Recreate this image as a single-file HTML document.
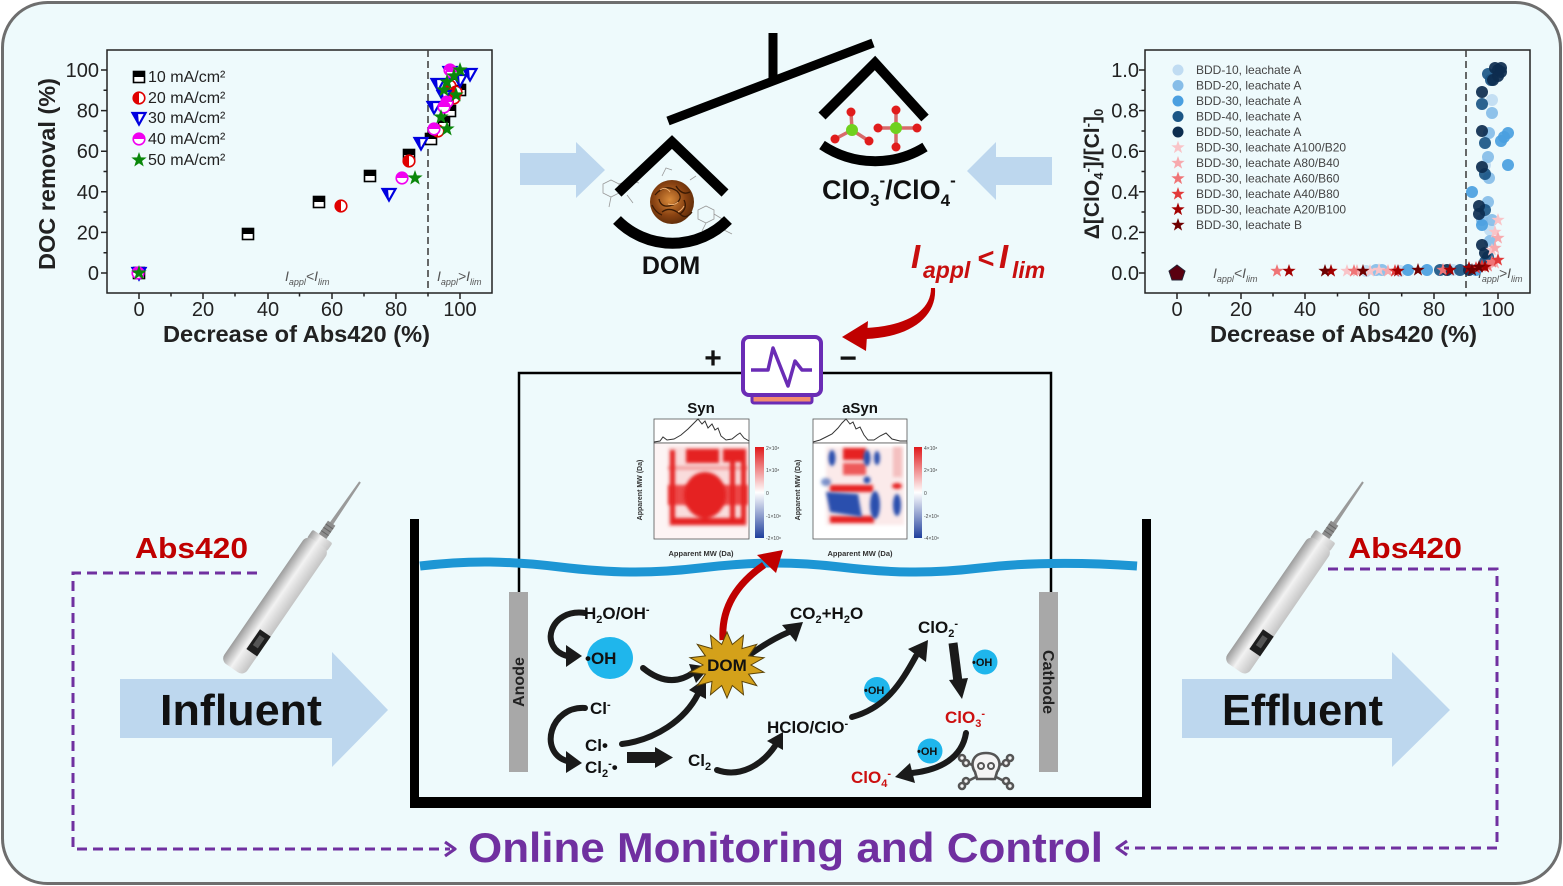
<!DOCTYPE html>
<html><head><meta charset="utf-8"><style>
html,body{margin:0;padding:0;background:#fff;}
svg{display:block;}
</style></head><body>
<svg width="1563" height="886" viewBox="0 0 1563 886" xmlns="http://www.w3.org/2000/svg" font-family="Liberation Sans, Arial, sans-serif">
<defs>
  <g id="sq"><rect x="-5.5" y="-5.5" width="11" height="11" fill="#fff" stroke="#000" stroke-width="1.6"/><rect x="-5.5" y="-5.5" width="11" height="5.5" fill="#000"/></g>
  <g id="c20"><circle r="5.8" fill="#fff" stroke="#e00000" stroke-width="1.6"/><path d="M0,-5.8 A5.8,5.8 0 0 0 0,5.8 Z" fill="#e00000"/></g>
  <g id="t30"><path d="M-6.5,-5 L6.5,-5 L0,6.5 Z" fill="#fff" stroke="#0000e0" stroke-width="2.2"/><path d="M-6.5,-5 L-1,-5 L0,6.5 Z" fill="#0000e0"/></g>
  <g id="c40"><circle r="5.8" fill="#fff" stroke="#f000f0" stroke-width="1.6"/><path d="M-5.8,0 A5.8,5.8 0 0 1 5.8,0 Z" fill="#f000f0"/></g>
  <path id="star" d="M0,-7 L1.646,-2.265 L6.657,-2.163 L2.663,0.865 L4.114,5.663 L0,2.8 L-4.114,5.663 L-2.663,0.865 L-6.657,-2.163 L-1.646,-2.265 Z"/>
  <g id="st50"><use href="#star" fill="#0a870a" transform="scale(1.15)"/></g>
  <linearGradient id="cb" x1="0" y1="0" x2="0" y2="1">
    <stop offset="0" stop-color="#e0191b"/><stop offset="0.5" stop-color="#ffffff"/><stop offset="1" stop-color="#1f3f9c"/>
  </linearGradient>
  <linearGradient id="pg" x1="0" y1="0" x2="1" y2="0">
    <stop offset="0" stop-color="#9c9c9c"/><stop offset="0.45" stop-color="#f2f2f2"/><stop offset="1" stop-color="#c4c4c4"/>
  </linearGradient>
  <radialGradient id="domg" cx="0.45" cy="0.45" r="0.6">
    <stop offset="0" stop-color="#d88a3a"/><stop offset="0.6" stop-color="#8a4312"/><stop offset="1" stop-color="#5a2a08"/>
  </radialGradient>
  <filter id="bl" x="-20%" y="-20%" width="140%" height="140%"><feGaussianBlur stdDeviation="1.6"/></filter>
  <clipPath id="clipSyn"><rect x="654" y="443" width="95" height="96"/></clipPath>
  <clipPath id="clipASyn"><rect x="813" y="443" width="94" height="96"/></clipPath>
  <g id="probe">
    <path d="M-1,0 L1,0 L2,52 L-2,52 Z" fill="#9a9a9a"/>
    <rect x="-4.5" y="50" width="9" height="18" fill="#8c8c8c"/>
    <line x1="-4.5" y1="54" x2="4.5" y2="54" stroke="#666" stroke-width="1"/>
    <line x1="-4.5" y1="58" x2="4.5" y2="58" stroke="#666" stroke-width="1"/>
    <line x1="-4.5" y1="62" x2="4.5" y2="62" stroke="#666" stroke-width="1"/>
    <rect x="-12" y="66" width="24" height="10" rx="2" fill="url(#pg)"/>
    <rect x="-14" y="74" width="28" height="152" rx="7" fill="url(#pg)"/>
    <rect x="1" y="178" width="13" height="24" fill="#1e1e1e"/>
    <rect x="4" y="183" width="6" height="12" fill="#555"/>
  </g>
</defs>

<!-- frame -->
<rect x="2.5" y="2.5" width="1558" height="881" rx="45" fill="#eefafc" stroke="#6e6e6e" stroke-width="3"/>

<!-- ============ LEFT PLOT ============ -->
<g stroke="#222" stroke-width="1.5" fill="none">
  <rect x="107" y="50" width="385" height="243"/>
  <path d="M139,293v6M203,293v6M268,293v6M332,293v6M396,293v6M460,293v6M171,293v3.5M235,293v3.5M299.5,293v3.5M364,293v3.5M428,293v3.5"/>
  <path d="M107,70h-6M107,110.6h-6M107,151.2h-6M107,191.8h-6M107,232.4h-6M107,273h-6M107,90.3h-3.5M107,131h-3.5M107,171.5h-3.5M107,212h-3.5M107,252.7h-3.5"/>
</g>
<line x1="428" y1="50" x2="428" y2="293" stroke="#444" stroke-width="1.6" stroke-dasharray="7,4"/>
<g font-size="20" fill="#222" text-anchor="end">
  <text x="99" y="77">100</text><text x="99" y="117.6">80</text><text x="99" y="158.2">60</text><text x="99" y="198.8">40</text><text x="99" y="239.4">20</text><text x="99" y="280">0</text>
</g>
<g font-size="20" fill="#222" text-anchor="middle">
  <text x="139" y="316">0</text><text x="203" y="316">20</text><text x="268" y="316">40</text><text x="332" y="316">60</text><text x="396" y="316">80</text><text x="460" y="316">100</text>
</g>
<text x="163" y="342" font-size="23" font-weight="bold" fill="#222" textLength="267" lengthAdjust="spacingAndGlyphs">Decrease of Abs420 (%)</text>
<text transform="translate(55,174) rotate(-90)" text-anchor="middle" font-size="23" font-weight="bold" fill="#222" textLength="192" lengthAdjust="spacingAndGlyphs">DOC removal (%)</text>
<!-- legend -->
<use href="#sq" x="139" y="77"/><use href="#c20" x="139" y="98"/><use href="#t30" x="139" y="118"/><use href="#c40" x="139" y="139"/><use href="#st50" x="139" y="160"/>
<g font-size="16" fill="#222">
  <text x="148" y="82">10 mA/cm²</text><text x="148" y="103">20 mA/cm²</text><text x="148" y="123">30 mA/cm²</text><text x="148" y="144">40 mA/cm²</text><text x="148" y="165">50 mA/cm²</text>
</g>
<g font-style="italic" fill="#555">
  <text x="285" y="281" font-size="14">I<tspan font-size="9" dy="4">appl</tspan><tspan dy="-4">&lt;I</tspan><tspan font-size="9" dy="4">lim</tspan></text>
  <text x="437" y="281" font-size="14">I<tspan font-size="9" dy="4">appl</tspan><tspan dy="-4">&gt;I</tspan><tspan font-size="9" dy="4">lim</tspan></text>
</g>
<!-- data -->
<use href="#sq" x="248" y="234"/><use href="#sq" x="319" y="202"/><use href="#sq" x="370" y="176"/><use href="#sq" x="409" y="155"/><use href="#sq" x="431" y="139"/><use href="#sq" x="444" y="123"/><use href="#sq" x="450" y="111"/><use href="#sq" x="460" y="90"/><use href="#sq" x="457" y="80"/><use href="#sq" x="139" y="273"/>
<use href="#c20" x="341" y="206"/><use href="#c20" x="409" y="161"/><use href="#c20" x="438" y="131"/><use href="#c20" x="454" y="98"/><use href="#c20" x="450" y="86"/><use href="#c20" x="456" y="92"/>
<use href="#t30" x="389" y="194"/><use href="#t30" x="421" y="143"/><use href="#t30" x="434" y="107"/><use href="#t30" x="438" y="84"/><use href="#t30" x="470" y="74"/><use href="#t30" x="450" y="72"/><use href="#t30" x="444" y="96"/><use href="#t30" x="460" y="80"/><use href="#t30" x="139" y="273"/>
<use href="#c40" x="402" y="178"/><use href="#c40" x="434" y="129"/><use href="#c40" x="447" y="102"/><use href="#c40" x="450" y="70"/><use href="#c40" x="444" y="107"/><use href="#c40" x="452" y="72"/><use href="#c40" x="138" y="273"/>
<use href="#st50" x="415" y="178"/><use href="#st50" x="447" y="129"/><use href="#st50" x="441" y="117"/><use href="#st50" x="444" y="90"/><use href="#st50" x="447" y="82"/><use href="#st50" x="460" y="70"/><use href="#st50" x="454" y="76"/><use href="#st50" x="139" y="273"/><use href="#st50" x="456" y="95"/>

<!-- ============ RIGHT PLOT ============ -->
<g stroke="#222" stroke-width="1.5" fill="none">
  <rect x="1145" y="50" width="385" height="243"/>
  <path d="M1177,293v6M1241,293v6M1305,293v6M1369,293v6M1434,293v6M1498,293v6M1209,293v3.5M1273,293v3.5M1337.5,293v3.5M1401.7,293v3.5M1466,293v3.5"/>
  <path d="M1145,70h-6M1145,110.6h-6M1145,151.2h-6M1145,191.8h-6M1145,232.4h-6M1145,273h-6M1145,90.3h-3.5M1145,131h-3.5M1145,171.5h-3.5M1145,212h-3.5M1145,252.7h-3.5"/>
</g>
<line x1="1466" y1="50" x2="1466" y2="293" stroke="#444" stroke-width="1.6" stroke-dasharray="7,4"/>
<g font-size="20" fill="#222" text-anchor="end">
  <text x="1139" y="77">1.0</text><text x="1139" y="117.6">0.8</text><text x="1139" y="158.2">0.6</text><text x="1139" y="198.8">0.4</text><text x="1139" y="239.4">0.2</text><text x="1139" y="280">0.0</text>
</g>
<g font-size="20" fill="#222" text-anchor="middle">
  <text x="1177" y="316">0</text><text x="1241" y="316">20</text><text x="1305" y="316">40</text><text x="1369" y="316">60</text><text x="1434" y="316">80</text><text x="1498" y="316">100</text>
</g>
<text x="1210" y="342" font-size="23" font-weight="bold" fill="#222" textLength="267" lengthAdjust="spacingAndGlyphs">Decrease of Abs420 (%)</text>
<text transform="translate(1099,174) rotate(-90)" text-anchor="middle" font-size="21" font-weight="bold" fill="#222">Δ[ClO<tspan font-size="13" dy="4">4</tspan><tspan font-size="13" dy="-11">-</tspan><tspan dy="7">]/[Cl</tspan><tspan font-size="13" dy="-7">-</tspan><tspan dy="7">]</tspan><tspan font-size="13" dy="4">0</tspan></text>
<!-- legend right -->
<g>
  <circle cx="1178" cy="70" r="5.5" fill="#c0dcf2"/>
  <circle cx="1178" cy="85.5" r="5.5" fill="#86bde8"/>
  <circle cx="1178" cy="101" r="5.5" fill="#4a9fe0"/>
  <circle cx="1178" cy="116.5" r="5.5" fill="#1b5686"/>
  <circle cx="1178" cy="132" r="5.5" fill="#0d2d4f"/>
  <use href="#star" x="1178" y="147.5" fill="#f9c4c8"/>
  <use href="#star" x="1178" y="163" fill="#f7a9ad"/>
  <use href="#star" x="1178" y="178.5" fill="#ef7476"/>
  <use href="#star" x="1178" y="194" fill="#e23a3a"/>
  <use href="#star" x="1178" y="209.5" fill="#a30000"/>
  <use href="#star" x="1178" y="225" fill="#6e0000"/>
</g>
<g font-size="12" fill="#444">
  <text x="1196" y="74">BDD-10, leachate A</text>
  <text x="1196" y="89.5">BDD-20, leachate A</text>
  <text x="1196" y="105">BDD-30, leachate A</text>
  <text x="1196" y="120.5">BDD-40, leachate A</text>
  <text x="1196" y="136">BDD-50, leachate A</text>
  <text x="1196" y="151.5">BDD-30, leachate A100/B20</text>
  <text x="1196" y="167">BDD-30, leachate A80/B40</text>
  <text x="1196" y="182.5">BDD-30, leachate A60/B60</text>
  <text x="1196" y="198">BDD-30, leachate A40/B80</text>
  <text x="1196" y="213.5">BDD-30, leachate A20/B100</text>
  <text x="1196" y="229">BDD-30, leachate B</text>
</g>
<g font-style="italic" fill="#555">
  <text x="1213" y="278" font-size="14">I<tspan font-size="9" dy="4">appl</tspan><tspan dy="-4">&lt;I</tspan><tspan font-size="9" dy="4">lim</tspan></text>
  <text x="1478" y="278" font-size="14">I<tspan font-size="9" dy="4">appl</tspan><tspan dy="-4">&gt;I</tspan><tspan font-size="9" dy="4">lim</tspan></text>
</g>
<!-- right data -->
<g fill-opacity="0.92">
  <g fill="#c0dcf2"><circle cx="1492" cy="100" r="6"/><circle cx="1485" cy="165" r="6"/><circle cx="1490" cy="230" r="6"/><circle cx="1400" cy="271" r="6"/><circle cx="1453" cy="270" r="6"/><circle cx="1366" cy="271" r="6"/></g>
  <g fill="#86bde8"><circle cx="1492" cy="113" r="6"/><circle cx="1489" cy="133" r="6"/><circle cx="1488" cy="157" r="6"/><circle cx="1489" cy="178" r="6"/><circle cx="1488" cy="202" r="6"/><circle cx="1482" cy="220" r="6"/><circle cx="1492" cy="220" r="6"/><circle cx="1490" cy="241" r="6"/><circle cx="1382" cy="270" r="6"/><circle cx="1376" cy="270" r="6"/></g>
  <g fill="#4a9fe0"><circle cx="1508" cy="133" r="6"/><circle cx="1504" cy="137" r="6"/><circle cx="1508" cy="165" r="6"/><circle cx="1472" cy="192" r="6"/><circle cx="1501" cy="141" r="6"/><circle cx="1427" cy="270" r="6"/><circle cx="1408" cy="270" r="6"/><circle cx="1476" cy="270" r="6"/><circle cx="1482" cy="225" r="6"/></g>
  <g fill="#1b5686"><circle cx="1488" cy="74" r="6"/><circle cx="1491" cy="80" r="6"/><circle cx="1482" cy="104" r="6"/><circle cx="1485" cy="143" r="6"/><circle cx="1485" cy="174" r="6"/><circle cx="1485" cy="210" r="6"/><circle cx="1488" cy="257" r="6"/><circle cx="1485" cy="262" r="6"/><circle cx="1440" cy="270" r="6"/><circle cx="1460" cy="270" r="6"/></g>
  <g fill="#0d2d4f"><circle cx="1498" cy="70" r="6"/><circle cx="1495" cy="68" r="6"/><circle cx="1501" cy="72" r="6"/><circle cx="1498" cy="76" r="6"/><circle cx="1482" cy="92" r="6"/><circle cx="1482" cy="131" r="6"/><circle cx="1482" cy="167" r="6"/><circle cx="1479" cy="206" r="6"/><circle cx="1479" cy="214" r="6"/><circle cx="1482" cy="245" r="6"/><circle cx="1485" cy="253" r="6"/><circle cx="1493" cy="80" r="6"/><circle cx="1501" cy="68" r="6"/><circle cx="1447" cy="270" r="6"/><circle cx="1469" cy="270" r="6"/></g>
</g>
<g>
  <g fill="#f9c4c8"><use href="#star" x="1498" y="220"/><use href="#star" x="1495" y="232"/><use href="#star" x="1347" y="271"/><use href="#star" x="1370" y="271"/><use href="#star" x="1379" y="270"/><use href="#star" x="1492" y="250"/></g>
  <g fill="#f7a9ad"><use href="#star" x="1498" y="238"/><use href="#star" x="1495" y="248"/><use href="#star" x="1357" y="271"/><use href="#star" x="1388" y="271"/><use href="#star" x="1495" y="263"/></g>
  <g fill="#ef7476"><use href="#star" x="1277" y="271"/><use href="#star" x="1354" y="271"/><use href="#star" x="1443" y="270"/><use href="#star" x="1492" y="262"/><use href="#star" x="1488" y="266"/></g>
  <g fill="#e23a3a"><use href="#star" x="1395" y="271"/><use href="#star" x="1482" y="266"/><use href="#star" x="1476" y="268"/><use href="#star" x="1498" y="260"/></g>
  <g fill="#a30000"><use href="#star" x="1289" y="271"/><use href="#star" x="1331" y="271"/><use href="#star" x="1398" y="271"/><use href="#star" x="1450" y="270"/><use href="#star" x="1469" y="268"/><use href="#star" x="1485" y="267"/></g>
  <g fill="#6e0000"><use href="#star" x="1325" y="271"/><use href="#star" x="1363" y="271"/><use href="#star" x="1418" y="270"/><use href="#star" x="1472" y="270"/><use href="#star" x="1479" y="267"/></g>
  <polygon points="1177,265 1185,271 1182,280 1172,280 1169,271" fill="#5a0010" stroke="#223" stroke-width="1"/>
</g>

<!-- ============ BALANCE ============ -->
<polygon points="520,153 576,153 576,142 605,170 576,198 576,185 520,185" fill="#bdd7ee"/>
<polygon points="1052,157 996,157 996,142 967,171 996,200 996,185 1052,185" fill="#bdd7ee"/>
<line x1="773" y1="33" x2="773" y2="84" stroke="#000" stroke-width="9"/>
<line x1="668" y1="121" x2="873" y2="43" stroke="#000" stroke-width="9"/>
<!-- left pan -->
<g stroke="#999" stroke-width="0.8" fill="none">
  <path d="M603,184 l8,-4 l8,4 l0,9 l-8,4 l-8,-4 z M619,184 l10,-4 l10,3 M611,197 l-2,10 M627,195 l6,8"/>
  <path d="M698,210 l8,-4 l8,4 l0,9 l-8,4 l-8,-4 z M714,214 l10,6 l0,10 l-8,5 M706,223 l-4,8 M724,230 l8,4"/>
  <path d="M662,176 l4,-8 l6,2 M690,180 l6,-4"/>
</g>
<circle cx="672" cy="202" r="22" fill="url(#domg)"/>
<g stroke="#3a1a04" stroke-width="1.3" fill="none">
  <path d="M655,195 q10,-12 22,-4 q8,8 -4,14 q-12,4 -14,-6"/>
  <path d="M662,212 q8,-6 18,2 q6,6 12,-2"/>
  <path d="M676,186 q6,10 14,6 M652,205 q4,8 10,10 M684,200 q4,8 -4,14"/>
</g>
<g stroke="#f0b070" stroke-width="1" fill="none"><path d="M660,190 q6,-4 10,2 M668,204 q6,2 10,-2 M678,212 q4,-2 6,-6"/></g>
<polyline points="618,193 672,142 725,193" fill="none" stroke="#000" stroke-width="10"/>
<path d="M617,220 A78,78 0 0 0 728,220" fill="none" stroke="#000" stroke-width="11"/>
<text x="671" y="274" text-anchor="middle" font-size="25" font-weight="bold" fill="#111">DOM</text>
<!-- right pan -->
<polyline points="822,116 875,63 925,118" fill="none" stroke="#000" stroke-width="10"/>
<path d="M822,145 A95,95 0 0 0 925,147" fill="none" stroke="#000" stroke-width="10"/>
<g stroke-width="3.5">
  <line x1="852" y1="130" x2="851" y2="112" stroke="#d86a6a"/><line x1="852" y1="130" x2="835" y2="139" stroke="#d86a6a"/><line x1="852" y1="130" x2="869" y2="141" stroke="#d86a6a"/>
  <line x1="896" y1="128" x2="896" y2="110" stroke="#d86a6a"/><line x1="896" y1="128" x2="878" y2="128" stroke="#d86a6a"/><line x1="896" y1="128" x2="917" y2="128" stroke="#d86a6a"/><line x1="896" y1="128" x2="896" y2="147" stroke="#d86a6a"/>
</g>
<g fill="#e01c1c"><circle cx="851" cy="112" r="4.5"/><circle cx="835" cy="139" r="4.5"/><circle cx="869" cy="141" r="4.5"/><circle cx="896" cy="110" r="4.5"/><circle cx="878" cy="128" r="4.5"/><circle cx="917" cy="128" r="4.5"/><circle cx="896" cy="147" r="4.5"/></g>
<g fill="#6fd11e"><circle cx="852" cy="130" r="6"/><circle cx="896" cy="128" r="6"/></g>
<text x="822" y="199" font-size="27" font-weight="bold" fill="#111">ClO<tspan font-size="17" dy="7">3</tspan><tspan font-size="17" dy="-20">-</tspan><tspan dy="13">/ClO</tspan><tspan font-size="17" dy="7">4</tspan><tspan font-size="17" dy="-20">-</tspan></text>

<!-- I_appl < I_lim -->
<g fill="#c80f0f" font-weight="bold" font-style="italic">
  <text x="911" y="268" font-size="33">I</text>
  <text x="923" y="278" font-size="23">appl</text>
  <text x="977" y="268" font-size="29">&lt;</text>
  <text x="999" y="268" font-size="33">I</text>
  <text x="1012" y="278" font-size="23">lim</text>
</g>
<path d="M931,288 C931,312 905,326 866,328 L866,339 C912,337 937,316 935,288 Z" fill="#c00000"/>
<polygon points="842,337 868,321 866,351" fill="#c00000"/>

<!-- ============ CIRCUIT ============ -->
<g stroke="#000" stroke-width="2.5" fill="none">
  <path d="M743,373 H519 V592"/>
  <path d="M821,373 H1051 V592"/>
</g>
<text x="713" y="368" text-anchor="middle" font-size="30" font-weight="bold" fill="#111">+</text>
<text x="848" y="368" text-anchor="middle" font-size="30" font-weight="bold" fill="#111">−</text>
<rect x="752" y="395" width="60" height="8" rx="2" fill="#f28b6e" stroke="#6a2cb5" stroke-width="3"/>
<rect x="743" y="337" width="78" height="58" rx="6" fill="#fff" stroke="#6a2cb5" stroke-width="4"/>
<polyline points="751,370 768,370 773,348 788,386 795,361 802,370 812,370" fill="none" stroke="#6a2cb5" stroke-width="3.5" stroke-linejoin="round"/>

<!-- Syn / aSyn -->
<text x="701" y="413" text-anchor="middle" font-size="15" font-weight="bold" fill="#111">Syn</text>
<text x="860" y="413" text-anchor="middle" font-size="15" font-weight="bold" fill="#111">aSyn</text>
<rect x="654" y="419" width="95" height="24" fill="#fff" stroke="#555" stroke-width="0.8"/>
<polyline points="654,442 660,441 663,437 667,440 674,439 681,435 688,429 694,423 698,419 702,424 705,421 708,428 712,424 715,430 718,428 721,436 726,440 732,439 737,435 740,433 744,438 749,441" fill="none" stroke="#333" stroke-width="1"/>
<rect x="654" y="443" width="95" height="96" fill="#fdf4f4" stroke="#555" stroke-width="0.8"/>
<g clip-path="url(#clipSyn)">
  <rect x="668" y="447" width="80" height="80" fill="#f9dcdc" filter="url(#bl)"/>
  <g fill="#ec4a4a" filter="url(#bl)">
    <rect x="668" y="485" width="80" height="20"/>
    <rect x="668" y="466" width="80" height="4" fill="#f3a5a5"/>
  </g>
  <g fill="#e52222" filter="url(#bl)">
    <ellipse cx="705" cy="495" rx="21" ry="23"/>
    <rect x="686" y="449" width="33" height="14"/>
    <rect x="723" y="449" width="22" height="13"/>
    <rect x="670" y="518" width="76" height="7"/>
    <rect x="670" y="450" width="5" height="75"/>
    <rect x="730" y="449" width="5" height="76"/>
    <rect x="741" y="449" width="5" height="76"/>
  </g>
</g>
<rect x="755" y="447" width="9" height="91" fill="url(#cb)"/>
<g font-size="5" fill="#444"><text x="766" y="450">2×10⁸</text><text x="766" y="472">1×10⁸</text><text x="766" y="495">0</text><text x="766" y="518">-1×10⁸</text><text x="766" y="540">-2×10⁸</text></g>
<text x="701" y="556" text-anchor="middle" font-size="7.5" font-weight="bold" fill="#333">Apparent MW (Da)</text>
<text transform="translate(642,490) rotate(-90)" text-anchor="middle" font-size="7" font-weight="bold" fill="#333">Apparent MW (Da)</text>

<rect x="813" y="419" width="94" height="24" fill="#fff" stroke="#555" stroke-width="0.8"/>
<polyline points="813,442 820,440 826,437 832,434 838,428 842,423 846,419 850,424 853,422 856,429 860,427 864,435 868,440 874,440 880,436 886,433 892,439 900,441 907,441" fill="none" stroke="#333" stroke-width="1"/>
<rect x="813" y="443" width="94" height="96" fill="#fff" stroke="#555" stroke-width="0.8"/>
<g clip-path="url(#clipASyn)">
  <rect x="826" y="447" width="78" height="78" fill="#fbeaea" filter="url(#bl)"/>
  <g fill="#e62424" filter="url(#bl)">
    <rect x="843" y="448" width="23" height="12"/>
    <rect x="843" y="463" width="23" height="12" fill="#ee5a5a"/>
    <rect x="830" y="485" width="43" height="7"/>
    <rect x="830" y="516" width="44" height="7"/>
    <ellipse cx="897" cy="486" rx="5" ry="3"/>
  </g>
  <rect x="893" y="447" width="9" height="30" fill="#f4c0c0" filter="url(#bl)"/>
  <g fill="#2a4fae" filter="url(#bl)">
    <path d="M826,492 L858,494 L862,517 L830,512 Z"/>
    <ellipse cx="875" cy="505" rx="5" ry="14"/>
    <ellipse cx="897" cy="505" rx="4" ry="11"/>
    <ellipse cx="832" cy="458" rx="3.5" ry="8"/>
    <ellipse cx="867" cy="458" rx="3.5" ry="8"/>
    <ellipse cx="877" cy="458" rx="3" ry="7"/>
    <circle cx="867" cy="480" r="3.5"/>
    <ellipse cx="826" cy="482" rx="5" ry="4" fill-opacity="0.6"/>
  </g>
</g>
<rect x="914" y="447" width="8" height="91" fill="url(#cb)"/>
<g font-size="5" fill="#444"><text x="924" y="450">4×10⁸</text><text x="924" y="472">2×10⁸</text><text x="924" y="495">0</text><text x="924" y="518">-2×10⁸</text><text x="924" y="540">-4×10⁸</text></g>
<text x="860" y="556" text-anchor="middle" font-size="7.5" font-weight="bold" fill="#333">Apparent MW (Da)</text>
<text transform="translate(800,490) rotate(-90)" text-anchor="middle" font-size="7" font-weight="bold" fill="#333">Apparent MW (Da)</text>

<!-- ============ TANK ============ -->
<path d="M420,566 C470,560 510,561 560,567 C610,573 650,574 700,568 C750,562 790,561 840,567 C890,573 930,574 980,568 C1030,562 1080,562 1137,566" fill="none" stroke="#1d96d4" stroke-width="9"/>
<rect x="410" y="519" width="9" height="289" fill="#000"/>
<rect x="1142" y="519" width="9" height="289" fill="#000"/>
<rect x="410" y="797" width="741" height="11" fill="#000"/>
<rect x="509" y="592" width="19" height="180" fill="#a8a8a8"/>
<rect x="1039" y="592" width="19" height="180" fill="#a8a8a8"/>
<text transform="translate(524,682) rotate(-90)" text-anchor="middle" font-size="16" font-weight="bold" fill="#222">Anode</text>
<text transform="translate(1043,682) rotate(90)" text-anchor="middle" font-size="16" font-weight="bold" fill="#222">Cathode</text>

<!-- red arrow DOM -> heatmap -->
<path d="M723,640 C721,610 735,585 764,565" fill="none" stroke="#c00000" stroke-width="7"/>
<polygon points="783,550 776,573 757,555" fill="#c00000"/>

<!-- OH circles -->
<ellipse cx="610" cy="658" rx="23" ry="21" fill="#1fb6ec"/>
<circle cx="877" cy="690" r="13" fill="#1fb6ec"/>
<circle cx="985" cy="662" r="12.5" fill="#1fb6ec"/>
<circle cx="930" cy="751" r="12.5" fill="#1fb6ec"/>

<!-- black arrows -->
<g fill="none" stroke="#1a1a1a" stroke-width="6" stroke-linecap="round">
  <path d="M585,613 C550,608 538,648 567,656"/>
  <path d="M585,708 C550,706 538,752 567,761"/>
  <path d="M643,668 Q670,690 694,672"/>
  <path d="M622,744 C655,740 685,720 698,694"/>
  <path d="M748,656 Q770,640 789,632"/>
  <path d="M717,770 C740,778 762,765 775,746"/>
  <path d="M852,717 C885,708 900,685 916,656"/>
  <path d="M953,643 L958,682" stroke-width="9" stroke-linecap="butt"/>
  <path d="M966,733 C962,758 940,770 912,773"/>
</g>
<g fill="#1a1a1a">
  <polygon points="582,656 566,645 566,667"/>
  <polygon points="582,763 566,751 566,773"/>
  <polygon points="710,667 696,683 689,664"/>
  <polygon points="706,678 706,699 689,690"/>
  <polygon points="803,622 796,642 782,625"/>
  <polygon points="627,752 655,752 655,747 673,757.5 655,768 655,763 627,763"/>
  <polygon points="783,732 783,750 767,741"/>
  <polygon points="928,640 926,662 908,649"/>
  <polygon points="962,699 949,680 968,678"/>
  <polygon points="895,777 915,783 910,763"/>
</g>
<!-- DOM star -->
<polygon points="727,632 732.3,644.5 743.5,635.3 742,648.6 756.7,644.4 748.6,655.9 764,657.7 751,665 764,672.3 748.6,674.1 756.7,685.6 742,681.4 743.5,694.7 732.3,685.5 727,698 721.7,685.5 710.5,694.7 712,681.4 697.3,685.6 705.4,674.1 690,672.3 703,665 690,657.7 705.4,655.9 697.3,644.4 712,648.6 710.5,635.3 721.7,644.5" fill="#d4a11a" stroke="#5a4208" stroke-width="1"/>
<text x="727" y="671" text-anchor="middle" font-size="17" font-weight="bold" fill="#111">DOM</text>

<!-- reaction labels -->
<g font-size="17" font-weight="bold" fill="#111">
  <text x="584" y="619">H<tspan font-size="11" dy="4">2</tspan><tspan dy="-4">O/OH</tspan><tspan font-size="11" dy="-6">-</tspan></text>
  <text x="585" y="664">•OH</text>
  <text x="790" y="619">CO<tspan font-size="11" dy="4">2</tspan><tspan dy="-4">+H</tspan><tspan font-size="11" dy="4">2</tspan><tspan dy="-4">O</tspan></text>
  <text x="590" y="714">Cl<tspan font-size="11" dy="-6">-</tspan></text>
  <text x="585" y="751">Cl•</text>
  <text x="585" y="773">Cl<tspan font-size="11" dy="4">2</tspan><tspan font-size="11" dy="-10">-</tspan><tspan dy="6">•</tspan></text>
  <text x="688" y="766">Cl<tspan font-size="11" dy="4">2</tspan></text>
  <text x="767" y="733">HClO/ClO<tspan font-size="11" dy="-6">-</tspan></text>
  <text x="918" y="633">ClO<tspan font-size="11" dy="4">2</tspan><tspan font-size="11" dy="-10">-</tspan></text>
</g>
<g font-size="17" font-weight="bold" fill="#cc1010">
  <text x="945" y="723">ClO<tspan font-size="11" dy="4">3</tspan><tspan font-size="11" dy="-10">-</tspan></text>
  <text x="851" y="783">ClO<tspan font-size="11" dy="4">4</tspan><tspan font-size="11" dy="-10">-</tspan></text>
</g>
<g font-size="11" font-weight="bold" fill="#111">
  <text x="864" y="694">•OH</text>
  <text x="972" y="666">•OH</text>
  <text x="917" y="755">•OH</text>
</g>
<!-- skull -->
<g stroke="#555" stroke-width="2.6" fill="#f4f4f4" stroke-linecap="round">
  <line x1="964" y1="761" x2="1008" y2="783"/>
  <line x1="964" y1="783" x2="1008" y2="761"/>
  <circle cx="962" cy="758" r="3"/><circle cx="966" cy="763" r="3"/>
  <circle cx="1010" cy="758" r="3"/><circle cx="1006" cy="763" r="3"/>
  <circle cx="962" cy="786" r="3"/><circle cx="966" cy="781" r="3"/>
  <circle cx="1010" cy="786" r="3"/><circle cx="1006" cy="781" r="3"/>
  <path d="M975,772 C970,765 972,753 986,753 C1000,753 1002,765 997,772 L995,779 L977,779 Z"/>
  <circle cx="981" cy="766" r="3" fill="none" stroke-width="2"/>
  <circle cx="991" cy="766" r="3" fill="none" stroke-width="2"/>
</g>

<!-- ============ SIDES ============ -->
<polygon points="120,679 332,679 332,652 388,710 332,767 332,738 120,738" fill="#bdd7ee"/>
<polygon points="1182,679 1392,679 1392,652 1450,710 1392,767 1392,738 1182,738" fill="#bdd7ee"/>
<text x="160" y="725" font-size="44" font-weight="bold" fill="#111" textLength="162" lengthAdjust="spacingAndGlyphs">Influent</text>
<text x="1222" y="725" font-size="44" font-weight="bold" fill="#111" textLength="161" lengthAdjust="spacingAndGlyphs">Effluent</text>
<use href="#probe" transform="translate(360,482) rotate(34.5)"/>
<use href="#probe" transform="translate(1363,482) rotate(34.5)"/>
<text x="135" y="558" font-size="29" font-weight="bold" fill="#c00000" textLength="113" lengthAdjust="spacingAndGlyphs">Abs420</text>
<text x="1348" y="558" font-size="29" font-weight="bold" fill="#c00000" textLength="114" lengthAdjust="spacingAndGlyphs">Abs420</text>
<g fill="none" stroke="#7030a0" stroke-width="3" stroke-dasharray="10,6">
  <path d="M257,573 H73 V849 H450"/>
  <path d="M1328,569 H1497 V848 H1124"/>
</g>
<g fill="none" stroke="#7030a0" stroke-width="3.2" stroke-linejoin="round">
  <polyline points="445,842 455,849 445,856"/>
  <polyline points="1127,841 1117,848 1127,855"/>
</g>
<text x="468" y="862" font-size="42" font-weight="bold" fill="#7030a0" textLength="635" lengthAdjust="spacingAndGlyphs">Online Monitoring and Control</text>
</svg>
</body></html>
